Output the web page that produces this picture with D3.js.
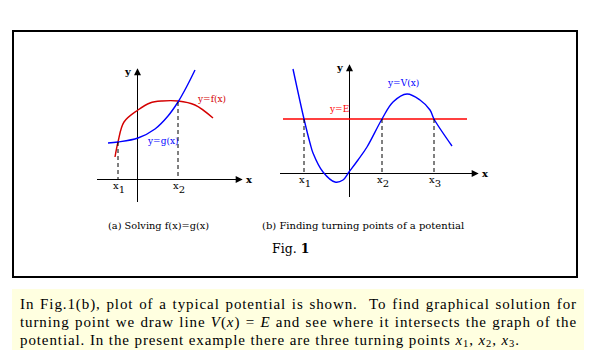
<!DOCTYPE html>
<html>
<head>
<meta charset="utf-8">
<script src="https://cdn.jsdelivr.net/npm/d3@7"></script>
<style>
  body { margin: 0; background: #fff; }
  svg { display: block; }
  text { font-family: "DejaVu Serif", serif; }
  text.para { font-family: "Liberation Serif", serif; letter-spacing: 0.9px; }
</style>
</head>
<body>
<svg id="chart" width="598" height="361"></svg>
<script>
// panel (a): f(x) and g(x)
const fX = [-2.2, -1.9, -1.3, 0.1, 1.3, 2.5, 4.1, 5.8, 7.6];
const fY = [2.2, 3.7, 5.7, 6.9, 7.6, 7.8, 7.8, 7.4, 6.1];
const gX = [-2.9, -1.9, 0.1, 1.8, 3.1, 4.1, 5.0, 5.8];
const gY = [3.6, 3.7, 4.1, 5.0, 6.3, 7.7, 9.3, 10.9];
const rootsA = [-1.9, 4.1];
const rootsAY = [3.7, 7.7];

// panel (b): potential V(x) and energy E
const vX = [-5.6, -4.5, -3.9, -3.6, -2.6, -1.4, -0.6, 0, 0.9, 1.8, 3.3, 4.4, 5.8, 7.1, 8.1, 8.5, 10.3];
const vY = [10.4, 5.4, 3.0, 2.0, 0.1, -0.9, -0.7, 0.1, 1.3, 2.6, 5.4, 7.1, 7.9, 7.3, 6.3, 5.4, 2.7];
const energy = 5.4;
const rootsB = [-4.5, 3.3, 8.5];

const captions = ['(a) Solving f(x)=g(x)', '(b) Finding turning points of a potential'];

const svg = d3.select('#chart');

const blue = '#0000ff';

// figure frame
svg.append('rect')
  .attr('x', 13).attr('y', 31)
  .attr('width', 564).attr('height', 246)
  .attr('fill', 'none')
  .attr('stroke', '#000')
  .attr('stroke-width', 2);

svg.append('defs').append('marker')
  .attr('id', 'arrow')
  .attr('viewBox', '0 0 10 10')
  .attr('refX', 9).attr('refY', 5)
  .attr('markerWidth', 9).attr('markerHeight', 7)
  .attr('markerUnits', 'userSpaceOnUse')
  .attr('orient', 'auto')
  .append('path')
  .attr('d', 'M0,0L10,5L0,10Z')
  .attr('fill', '#000');

function panel(ox, oy, xr, yr) {
  const x = d3.scaleLinear().domain([0, 1]).range([ox, ox + 10]);
  const y = d3.scaleLinear().domain([0, 1]).range([oy, oy - 10]);
  const g = svg.append('g');
  g.append('line')
    .attr('x1', x(xr[0])).attr('x2', x(xr[1]))
    .attr('y1', y(0) + 0.5).attr('y2', y(0) + 0.5)
    .attr('stroke', '#000').attr('stroke-width', 1)
    .attr('marker-end', 'url(#arrow)');
  g.append('line')
    .attr('x1', x(0) + 0.5).attr('x2', x(0) + 0.5)
    .attr('y1', y(yr[0])).attr('y2', y(yr[1]))
    .attr('stroke', '#000').attr('stroke-width', 1)
    .attr('marker-end', 'url(#arrow)');
  g.append('text').text('x')
    .attr('x', x(xr[1]) + 4).attr('y', y(0) + 3.5)
    .attr('font-size', 10).attr('font-weight', 'bold');
  g.append('text').text('y')
    .attr('x', x(0) - 12).attr('y', y(yr[1]) + 6)
    .attr('font-size', 10).attr('font-weight', 'bold');
  return {x, y, g};
}

function curve(p, xs, ys, color) {
  const line = d3.line()
    .x(d => p.x(d[0]))
    .y(d => p.y(d[1]))
    .curve(d3.curveCatmullRom);
  p.g.append('path')
    .datum(xs.map((v, i) => [v, ys[i]]))
    .attr('d', line)
    .attr('fill', 'none')
    .attr('stroke', color)
    .attr('stroke-width', 1.4);
}

function drop(p, xv, yv, idx) {
  p.g.append('line')
    .attr('x1', p.x(xv)).attr('x2', p.x(xv))
    .attr('y1', p.y(yv)).attr('y2', p.y(0))
    .attr('stroke', '#000').attr('stroke-width', 1)
    .attr('stroke-dasharray', '4,3');
  const t = p.g.append('text')
    .attr('x', p.x(xv) - 5).attr('y', p.y(0) + 10)
    .attr('font-size', 10);
  t.append('tspan').text('x');
  t.append('tspan').text(idx).attr('dy', 4);
}

// panel (a)
const pa = panel(137, 179, [-4, 10.5], [-2.3, 11]);
curve(pa, fX, fY, '#d40000');
curve(pa, gX, gY, blue);
rootsA.forEach((r, i) => drop(pa, r, rootsAY[i], i + 1));
pa.g.append('text').text('y=f(x)')
  .attr('x', pa.x(6.1)).attr('y', pa.y(7.7))
  .attr('font-size', 9).attr('fill', '#d40000');
pa.g.append('text').text('y=g(x)')
  .attr('x', pa.x(1.1)).attr('y', pa.y(3.5))
  .attr('font-size', 9).attr('fill', blue);

// panel (b)
const pb = panel(349, 173, [-6.9, 12.9], [-2.4, 10.8]);
pb.g.append('line')
  .attr('x1', pb.x(-6.6)).attr('x2', pb.x(11.8))
  .attr('y1', pb.y(energy)).attr('y2', pb.y(energy))
  .attr('stroke', '#ff0000').attr('stroke-width', 1.5);
curve(pb, vX, vY, blue);
rootsB.forEach((r, i) => drop(pb, r, energy, i + 1));
pb.g.append('text').text('y=E')
  .attr('x', pb.x(-1.9)).attr('y', pb.y(6.1))
  .attr('font-size', 9).attr('fill', '#ff0000');
pb.g.append('text').text('y=V(x)')
  .attr('x', pb.x(3.9)).attr('y', pb.y(8.7))
  .attr('font-size', 9).attr('fill', blue);

// sub captions
svg.append('text').text(captions[0])
  .attr('x', 108).attr('y', 229).attr('font-size', 9.8);
svg.append('text').text(captions[1])
  .attr('x', 262).attr('y', 229).attr('font-size', 10);

const fig = svg.append('text')
  .attr('x', 272).attr('y', 253)
  .attr('font-size', 12.5);
fig.append('tspan').text('Fig. ');
fig.append('tspan').text('1').attr('font-weight', 'bold');

// note box below the figure
svg.append('rect')
  .attr('x', 12).attr('y', 289)
  .attr('width', 572).attr('height', 61)
  .attr('fill', '#ffffe0');

const para = [
  [['In Fig.1(b), plot of a typical potential is shown.  To find graphical solution for']],
  [['turning point we draw line '], ['V', 'i'], ['('], ['x', 'i'], [') = '], ['E', 'i'],
   [' and see where it intersects the graph of the']],
  [['potential. In the present example there are three turning points '],
   ['x', 'i'], ['1', 's'], [', '], ['x', 'i'], ['2', 's'], [', '], ['x', 'i'], ['3', 's'], ['.']]
];

para.forEach((parts, li) => {
  const t = svg.append('text')
    .attr('class', 'para')
    .attr('x', 20).attr('y', 309 + li * 18)
    .attr('font-size', 15)
    .style('white-space', 'pre');
  let sub = false;
  parts.forEach(p => {
    const s = t.append('tspan').text(p[0]);
    if (p[1] === 'i') s.attr('font-style', 'italic');
    if (p[1] === 's') { s.attr('font-size', 10.5); if (!sub) s.attr('dy', 2); sub = true; }
    else if (sub) { s.attr('dy', -2); sub = false; }
  });
  if (li < para.length - 1) {
    const full = t.text();
    const spaces = (full.match(/ /g) || []).length;
    const w = t.node().getComputedTextLength();
    t.attr('word-spacing', (557 - w) / spaces);
  }
});
</script>
</body>
</html>
